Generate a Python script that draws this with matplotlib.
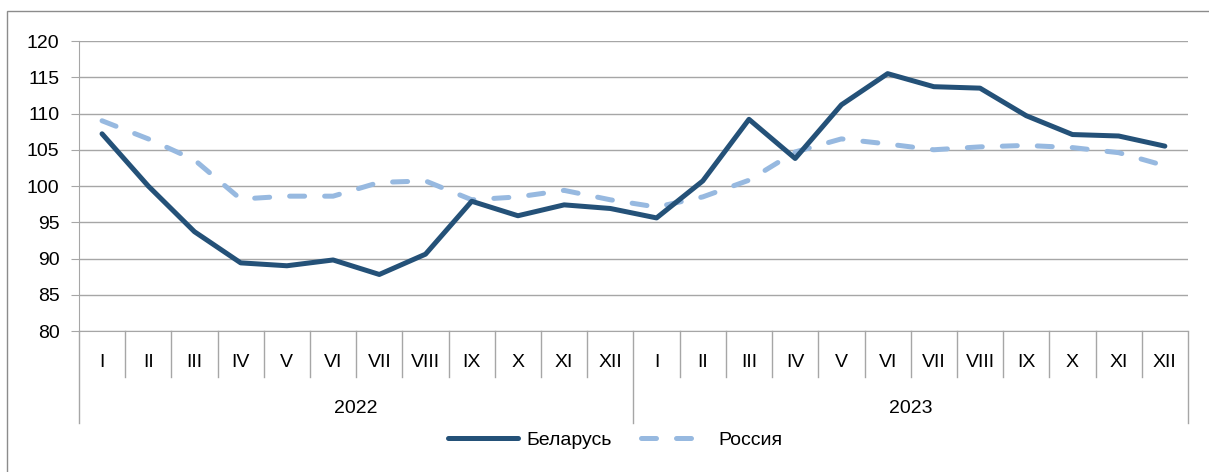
import numpy as np
import matplotlib.pyplot as plt
from matplotlib.patches import Rectangle

# данные
months = ["I", "II", "III", "IV", "V", "VI", "VII", "VIII", "IX", "X", "XI", "XII"]
years = ["2022", "2023"]
belarus = [107.2, 100.0, 93.7, 89.4, 89.0, 89.8, 87.8, 90.6, 97.9, 95.9, 97.4, 96.9,
           95.6, 100.7, 109.2, 103.8, 111.2, 115.5, 113.7, 113.5, 109.7, 107.1, 106.9, 105.5]
russia = [109.0, 106.5, 103.6, 98.2, 98.6, 98.6, 100.5, 100.7, 98.1, 98.5, 99.4, 98.1,
          97.1, 98.5, 100.8, 104.7, 106.5, 105.8, 105.0, 105.4, 105.6, 105.3, 104.6, 102.8]

plt.rcParams["font.family"] = ["Liberation Sans", "DejaVu Sans"]

grid_c = "#a6a6a6"
fs = 14
fig = plt.figure(figsize=(12.09, 4.72), dpi=100)
ax = fig.add_axes([0.0653, 0.2987, 0.9173, 0.6144])

x = np.arange(len(belarus))
ax.plot(x, belarus, color="#245178", lw=3.6, solid_capstyle="round", label="Беларусь", zorder=3)
ax.plot(x, russia, color="#97b9e0", lw=3.6, dashes=(3.0, 4.0), dash_capstyle="round",
        label="Россия", zorder=2)

ax.set_xlim(-0.5, len(belarus) - 0.5)
ax.set_ylim(80, 120)
ax.set_yticks(np.arange(80, 121, 5))
ax.yaxis.grid(True, color=grid_c, lw=1)
ax.set_axisbelow(True)
ax.tick_params(axis="y", labelsize=fs, length=6, color=grid_c, pad=8)
ax.set_xticks([])
for s in ["top", "right"]:
    ax.spines[s].set_visible(False)
for s in ["left", "bottom"]:
    ax.spines[s].set_color(grid_c)

# двухуровневая ось категорий
tr = ax.get_xaxis_transform()
n = len(belarus)
for i in range(n + 1):
    bottom = -0.317 if i % 12 == 0 else -0.159
    ax.plot([i - 0.5, i - 0.5], [0, bottom], color=grid_c, lw=1, transform=tr, clip_on=False)
for i in range(n):
    ax.text(i, -0.107, months[i % 12], transform=tr, ha="center", va="center", fontsize=fs)
for j, yr in enumerate(years):
    ax.text(j * 12 + 5.5, -0.266, yr, transform=tr, ha="center", va="center", fontsize=fs)

fig.legend(loc="center", bbox_to_anchor=(0.509, 0.068), ncol=2, frameon=False, fontsize=fs,
           handlelength=3.6, columnspacing=1.5, handletextpad=0.4)

fig.patches.append(Rectangle((0.0058, -0.02), 1.1, 0.997, transform=fig.transFigure,
                             fill=False, edgecolor="#8c8c8c", lw=1))

fig.savefig("out.png", dpi=100)
